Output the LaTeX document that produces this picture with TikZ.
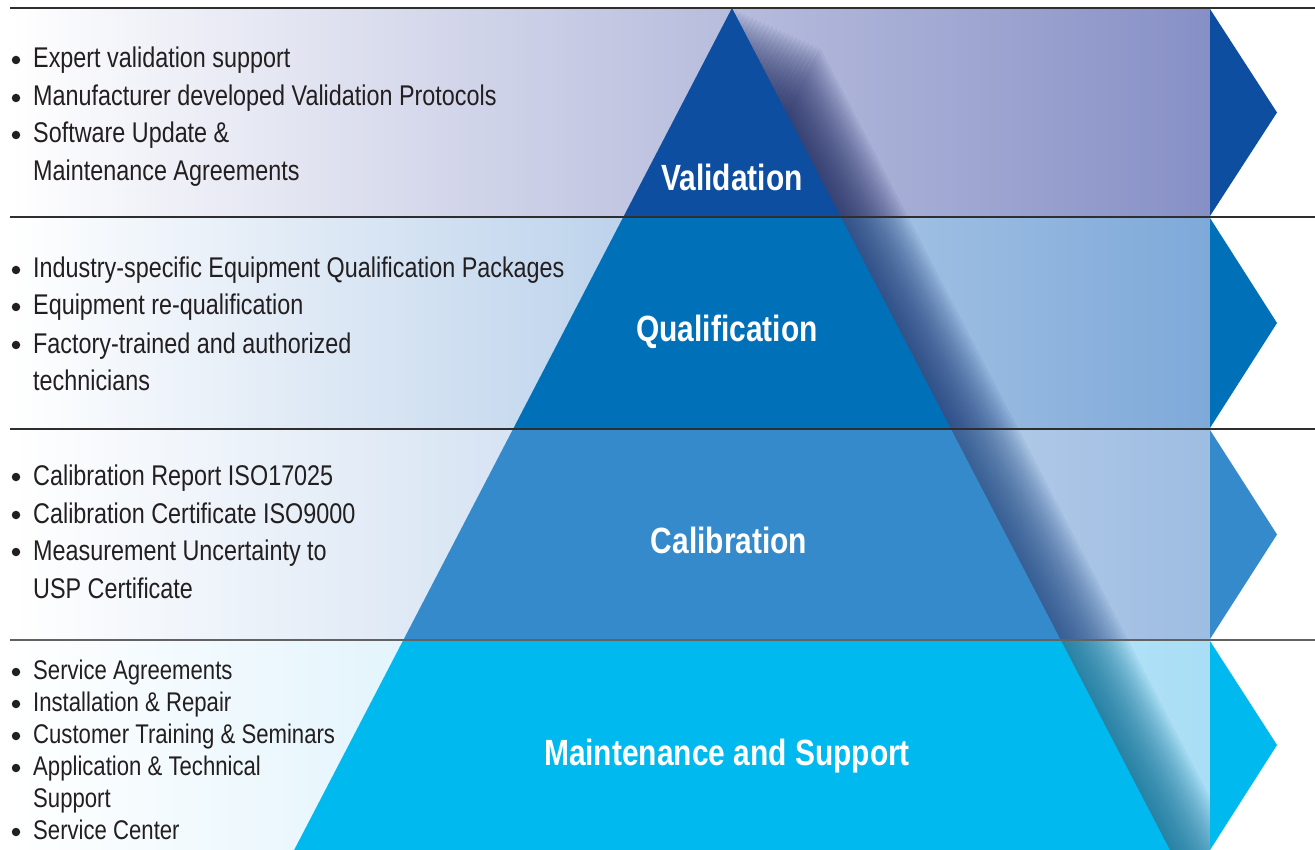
\documentclass[tikz,border=0pt]{standalone}
\usepackage{fontspec}
\setmainfont{Liberation Sans}[FakeStretch=0.82]
\usetikzlibrary{calc}
\definecolor{cVal}{HTML}{0D4EA0}
\definecolor{cQua}{HTML}{0071B9}
\definecolor{cCal}{HTML}{358ACB}
\definecolor{cMai}{HTML}{00B9EF}
\definecolor{mVal}{HTML}{D4D7EC}\definecolor{rVal}{HTML}{8790C6}
\definecolor{mQua}{HTML}{CFE0F1}\definecolor{rQua}{HTML}{7EA9D9}
\definecolor{mCal}{HTML}{C6DAEF}\definecolor{rCal}{HTML}{9EBDE2}
\definecolor{mMai}{HTML}{D2EEFA}\definecolor{rMai}{HTML}{A9DEF6}
\definecolor{sVal}{HTML}{1E2A60}\definecolor{sQua}{HTML}{1A3A78}
\definecolor{sCal}{HTML}{1F4A85}\definecolor{sMai}{HTML}{0A6F95}
\definecolor{txt}{HTML}{231F20}
\definecolor{rule}{HTML}{2E2E2E}
\tikzset{
  item/.style={anchor=base west, inner sep=0pt, text=txt, font=\fontsize{28.5}{28.5}\selectfont},
  smallitem/.style={item, font=\fontsize{27}{27}\selectfont},
  dot/.style={circle, fill=txt, inner sep=0pt, minimum size=8.5pt},
  title/.style={anchor=base, inner sep=0pt, text=white, font=\fontsize{36.5}{36.5}\selectfont\bfseries},
  sep/.style={draw=rule, line width=1.3pt},
}
\begin{document}
\begin{tikzpicture}[x=1pt,y=-1pt]
\useasboundingbox (0,0) rectangle (1315,850);
\fill[white] (0,0) rectangle (1315,850);
% band backgrounds
\shade[left color=white, middle color=mVal, right color=rVal] (10,8) rectangle (1210,217);
\shade[left color=white, middle color=mQua, right color=rQua] (10,217) rectangle (1210,429);
\shade[left color=white, middle color=mCal, right color=rCal] (10,429) rectangle (1210,640);
\shade[left color=white, middle color=mMai, right color=rMai] (10,640) rectangle (1210,850);
% shadows
\foreach \ya/\yb/\sc in {8/217/sVal, 217/429/sQua, 429/640/sCal, 640/850/sMai}{
  \begin{scope}
    \clip (10,\ya) rectangle (1210,\yb);
    \foreach \d in {0,4,...,88}{
      \fill[\sc, opacity=0.065] ({732+\d},{8+0.45*\d}) -- ({732+\d+0.52*900},{908+0.45*\d}) -- ({732+\d-0.52*900},{908+0.45*\d}) -- cycle;
    }
  \end{scope}
}
% pyramid
\begin{scope}
  \clip (732,8) -- ({732+0.52*842},850) -- ({732-0.52*842},850) -- cycle;
  \fill[cVal] (0,8) rectangle (1315,217);
  \fill[cQua] (0,217) rectangle (1315,429);
  \fill[cCal] (0,429) rectangle (1315,640);
  \fill[cMai] (0,640) rectangle (1315,850);
\end{scope}
% chevrons
\fill[cVal] (1210,9) -- (1277,112.5) -- (1210,216) -- cycle;
\fill[cQua] (1210,218) -- (1277,323) -- (1210,428) -- cycle;
\fill[cCal] (1210,430) -- (1277,534.5) -- (1210,639) -- cycle;
\fill[cMai] (1210,641) -- (1277,745) -- (1210,850) -- cycle;
% rules
\draw[sep] (10,8) -- (1315,8);
\draw[sep] (10,217) -- (1315,217);
\draw[sep] (10,429) -- (1315,429);
\draw[sep, draw=rule!75] (10,640) -- (1315,640);
% titles
\node[title] (tVal) at (732,191) {Validation};
\node[title] (tQua) at (727,342) {Qualification};
\node[title] (tCal) at (729,553) {Calibration};
\node[title] (tMai) at (727,765) {Maintenance and Support};
% items band 1
\node[dot] (d11) at (16,60) {};
\node[item] (i11) at (33,68) {Expert validation support};
\node[dot] (d12) at (16,98) {};
\node[item] (i12) at (33,106) {Manufacturer developed Validation Protocols};
\node[dot] (d13) at (16,135) {};
\node[item] (i13) at (33,143) {Software Update \&};
\node[item] (i14) at (33,181) {Maintenance Agreements};
% band 2
\node[dot] (d21) at (16,270) {};
\node[item] (i21) at (33,278) {Industry-specific Equipment Qualification Packages};
\node[dot] (d22) at (16,307) {};
\node[item] (i22) at (33,315) {Equipment re-qualification};
\node[dot] (d23) at (16,345) {};
\node[item] (i23) at (33,353) {Factory-trained and authorized};
\node[item] (i24) at (33,390) {technicians};
% band 3
\node[dot] (d31) at (16,477) {};
\node[item] (i31) at (33,485) {Calibration Report ISO17025};
\node[dot] (d32) at (16,515) {};
\node[item] (i32) at (33,523) {Calibration Certificate ISO9000};
\node[dot] (d33) at (16,552) {};
\node[item] (i33) at (33,560) {Measurement Uncertainty to};
\node[item] (i34) at (33,598) {USP Certificate};
% band 4
\node[dot] (d41) at (16,672) {};
\node[smallitem] (i41) at (33,679) {Service Agreements};
\node[dot] (d42) at (16,704) {};
\node[smallitem] (i42) at (33,711) {Installation \& Repair};
\node[dot] (d43) at (16,736) {};
\node[smallitem] (i43) at (33,743) {Customer Training \& Seminars};
\node[dot] (d44) at (16,768) {};
\node[smallitem] (i44) at (33,775) {Application \& Technical};
\node[smallitem] (i45) at (33,807) {Support};
\node[dot] (d46) at (16,832) {};
\node[smallitem] (i46) at (33,839) {Service Center};
\end{tikzpicture}
\end{document}
